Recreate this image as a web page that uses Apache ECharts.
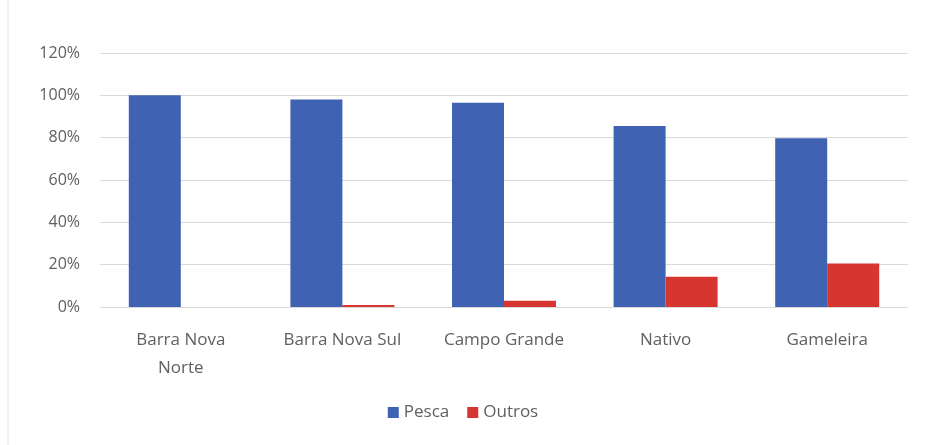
<!DOCTYPE html>
<html>
<head>
<meta charset="utf-8">
<script src="https://cdn.jsdelivr.net/npm/echarts@6/dist/echarts.min.js"></script>
<style>
  html, body { margin: 0; padding: 0; background: #fff; }
  #chart { width: 926px; height: 445px; }
</style>
</head>
<body>
<div id="chart"></div>
<script>
'use strict';
var categories = ['Barra Nova\nNorte', 'Barra Nova Sul', 'Campo Grande', 'Nativo', 'Gameleira'];
var pesca = [100, 98, 96.5, 85.5, 79.7];
var outros = [0, 1, 3, 14.3, 20.6];
var yTicks = [0, 20, 40, 60, 80, 100, 120];

var colors = {
    pesca: '#3f62b3',
    outros: '#d7352f',
    text: '#606060',
    grid: '#d9d9d9'
};
var font = 'Open Sans';

var chart = echarts.init(document.getElementById('chart'));
chart.setOption({
    animation: false,
    textStyle: { fontFamily: font },
    graphic: [{
        type: 'line',
        shape: { x1: 8, y1: 0, x2: 8, y2: 445 },
        style: { stroke: '#e0e0e0', lineWidth: 1 }
    }],
    legend: {
        bottom: 19,
        left: 'center',
        itemWidth: 11,
        itemHeight: 11,
        itemGap: 18,
        icon: 'rect',
        textStyle: { color: colors.text, fontSize: 17, fontFamily: font },
        data: ['Pesca', 'Outros']
    },
    grid: { left: 100, right: 18, top: 53, bottom: 138 },
    xAxis: {
        type: 'category',
        data: categories,
        axisLine: { lineStyle: { color: colors.grid } },
        axisTick: { show: false },
        axisLabel: {
            color: colors.text,
            fontSize: 17,
            lineHeight: 28,
            margin: 19,
            interval: 0
        }
    },
    yAxis: {
        type: 'value',
        min: yTicks[0],
        max: yTicks[yTicks.length - 1],
        interval: 20,
        axisLine: { show: false },
        axisTick: { show: false },
        splitLine: { lineStyle: { color: colors.grid } },
        axisLabel: {
            color: colors.text,
            fontSize: 16,
            margin: 20,
            formatter: '{value}%'
        }
    },
    series: [{
        name: 'Pesca',
        type: 'bar',
        data: pesca,
        barWidth: 52,
        barGap: '0%',
        itemStyle: { color: colors.pesca }
    }, {
        name: 'Outros',
        type: 'bar',
        data: outros,
        barWidth: 52,
        barGap: '0%',
        itemStyle: { color: colors.outros }
    }]
});
</script>
</body>
</html>
